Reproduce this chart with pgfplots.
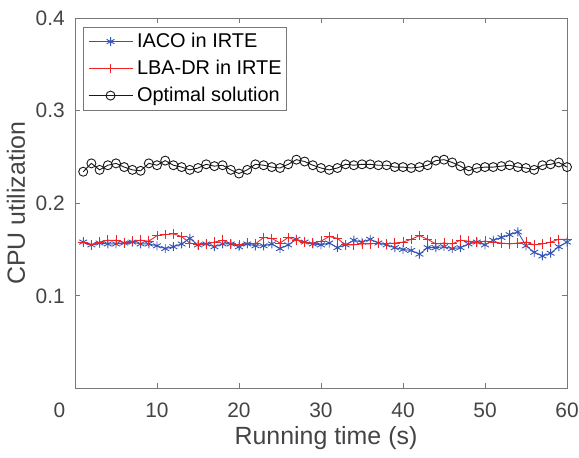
\documentclass[border=0pt]{standalone}
\usepackage{pgfplots}
\pgfplotsset{compat=1.18}
\usepackage{pgfplotstable}
\usepackage{fontspec}
\setmainfont{Liberation Sans}
\definecolor{axgray}{RGB}{120,120,120}
\definecolor{txtgray}{RGB}{68,68,68}
\definecolor{iacoblue}{RGB}{52,84,180}
\definecolor{lbared}{RGB}{240,36,36}
\definecolor{optblack}{RGB}{25,25,25}

\pgfplotstableread{
x y
1 0.158
2 0.155
3 0.157
4 0.156
5 0.156
6 0.157
7 0.158
8 0.156
9 0.156
10 0.154
11 0.151
12 0.153
13 0.156
14 0.162
15 0.155
16 0.156
17 0.153
18 0.156
19 0.156
20 0.153
21 0.156
22 0.154
23 0.154
24 0.156
25 0.151
26 0.155
27 0.161
28 0.158
29 0.156
30 0.155
31 0.157
32 0.152
33 0.155
34 0.160
35 0.158
36 0.161
37 0.157
38 0.155
39 0.152
40 0.150
41 0.149
42 0.145
43 0.152
44 0.152
45 0.153
46 0.151
47 0.152
48 0.156
49 0.158
50 0.155
51 0.160
52 0.163
53 0.166
54 0.169
55 0.154
56 0.147
57 0.143
58 0.146
59 0.153
60 0.158
}\iaco

\pgfplotstableread{
x y
1 0.158
2 0.155
3 0.158
4 0.160
5 0.160
6 0.157
7 0.159
8 0.160
9 0.159
10 0.165
11 0.166
12 0.167
13 0.164
14 0.157
15 0.155
16 0.156
17 0.158
18 0.160
19 0.156
20 0.155
21 0.157
22 0.156
23 0.163
24 0.162
25 0.157
26 0.163
27 0.160
28 0.158
29 0.157
30 0.159
31 0.164
32 0.162
33 0.155
34 0.155
35 0.156
36 0.156
37 0.157
38 0.156
39 0.157
40 0.158
41 0.161
42 0.165
43 0.161
44 0.156
45 0.157
46 0.156
47 0.160
48 0.159
49 0.158
50 0.159
51 0.158
52 0.157
53 0.156
54 0.157
55 0.158
56 0.155
57 0.156
58 0.158
59 0.161
60 0.161
}\lba

\pgfplotstableread{
x y
1 0.234
2 0.243
3 0.236
4 0.241
5 0.243
6 0.239
7 0.236
8 0.235
9 0.243
10 0.241
11 0.246
12 0.241
13 0.239
14 0.236
15 0.238
16 0.242
17 0.240
18 0.241
19 0.236
20 0.232
21 0.236
22 0.242
23 0.241
24 0.239
25 0.238
26 0.242
27 0.247
28 0.245
29 0.241
30 0.238
31 0.236
32 0.238
33 0.242
34 0.241
35 0.242
36 0.242
37 0.241
38 0.241
39 0.239
40 0.239
41 0.238
42 0.239
43 0.241
44 0.246
45 0.247
46 0.244
47 0.240
48 0.235
49 0.238
50 0.239
51 0.239
52 0.240
53 0.241
54 0.239
55 0.238
56 0.236
57 0.241
58 0.242
59 0.244
60 0.239
}\opt

\begin{document}
\begin{tikzpicture}
\useasboundingbox (-75bp,-68.7bp) rectangle (504bp,388.4bp);
\begin{axis}[
  at={(0,0)}, anchor=south west,
  scale only axis,
  width=492bp, height=370.4bp,
  xmin=0, xmax=60, ymin=0, ymax=0.4,
  xtick={0,10,...,60},
  xticklabels={,10,20,30,40,50,60},
  ytick={0,0.1,0.2,0.3,0.4},
  yticklabels={,0.1,0.2,0.3,0.4},
  /pgf/number format/assume math mode=true,
  tick align=inside,
  major tick length=5bp,
  tick style={draw=axgray, line width=0.8bp},
  axis line style={draw=axgray, line width=0.8bp},
  ticklabel style={text=txtgray, font=\fontsize{21}{25}\selectfont},
  xticklabel style={inner sep=0pt, anchor=north, yshift=-14bp},
  yticklabel style={inner sep=0pt, anchor=east, xshift=-10bp},
  xlabel={Running time (s)},
  ylabel={CPU utilization},
  label style={text=txtgray, font=\fontsize{25}{30}\selectfont, inner sep=0pt},
  xlabel style={at={(axis description cs:0.5,0)}, anchor=base, yshift=-55.7bp, xshift=5bp},
  ylabel style={at={(axis description cs:0,0.5)}, anchor=base, yshift=50bp},
  legend style={at={(0,1)}, anchor=north west, xshift=7.7bp, yshift=-8.7bp,
    draw=axgray, line width=0.8bp, fill=white, inner sep=5bp,
    font=\fontsize{20}{24}\selectfont, text=black,
    row sep=8bp, column sep=4bp,
    nodes={inner sep=0pt, text height=15bp, text depth=4bp}},
  legend cell align=left,
  legend image code/.code={
    \draw[#1, mark repeat=2, mark phase=2] plot coordinates {(0bp,0bp) (22bp,0bp) (44bp,0bp)};
  },
]
\addplot[color=iacoblue, line width=0.9bp, mark=asterisk, mark size=4.5bp, mark options={line width=0.9bp}] table[x=x,y=y] {\iaco};
\addlegendentry{IACO in IRTE}
\addplot[color=lbared, line width=0.9bp, mark=+, mark size=4.8bp, mark options={line width=0.9bp}] table[x=x,y=y] {\lba};
\addlegendentry{LBA-DR in IRTE}
\addplot[color=optblack, line width=0.9bp, mark=o, mark size=4.5bp, mark options={line width=0.9bp, fill=none}] table[x=x,y=y] {\opt};
\addlegendentry{Optimal solution\hspace{7bp}}
\end{axis}
\node[text=txtgray, font=\fontsize{21}{25}\selectfont, inner sep=0pt, anchor=north] at (-15.5bp,-14bp) {0};
\end{tikzpicture}
\end{document}
